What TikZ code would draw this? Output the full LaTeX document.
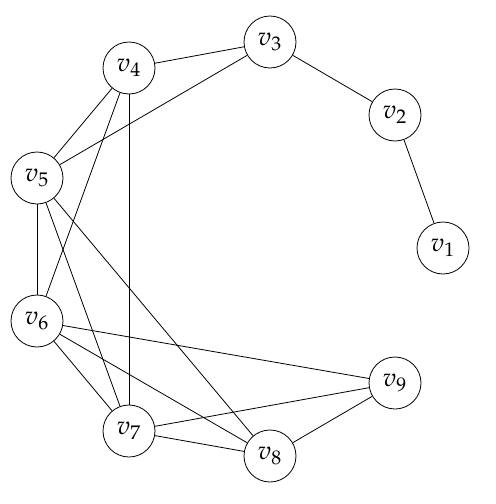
\documentclass[tikz,border=0pt]{standalone}
\usepackage{mathpazo}
\begin{document}
\begin{tikzpicture}[x=0.5pt, y=-0.5pt,
  vert/.style={circle, draw, thin, fill=white, minimum size=26pt, inner sep=0pt, font=\fontsize{13}{15}\selectfont},
  edge/.style={thin}]
\useasboundingbox (0,0) rectangle (495,504);

% вершины на окружности
\node[vert] (v1) at (443,248) {$v_1$};
\node[vert] (v2) at (395,115) {$v_2$};
\node[vert] (v3) at (270,42)  {$v_3$};
\node[vert] (v4) at (129,68)  {$v_4$};
\node[vert] (v5) at (37,178)  {$v_5$};
\node[vert] (v6) at (37,321)  {$v_6$};
\node[vert] (v7) at (129,431) {$v_7$};
\node[vert] (v8) at (270,456) {$v_8$};
\node[vert] (v9) at (395,383) {$v_9$};

% рёбра
\foreach \a/\b in {v1/v2, v2/v3, v3/v4, v3/v5, v4/v5, v4/v6, v4/v7, v5/v6,
                   v5/v7, v5/v8, v6/v7, v6/v8, v6/v9, v7/v8, v7/v9, v8/v9}
  \draw[edge] (\a) -- (\b);
\end{tikzpicture}
\end{document}
